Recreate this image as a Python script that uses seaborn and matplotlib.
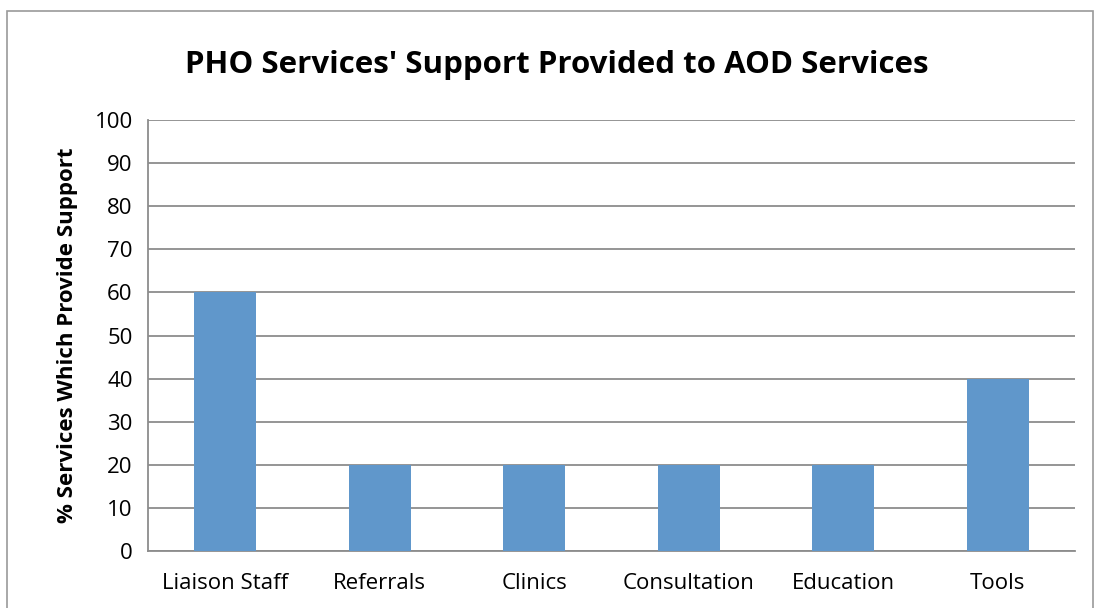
import matplotlib
matplotlib.use("Agg")
import matplotlib.pyplot as plt
import seaborn as sns
import pandas as pd
from matplotlib.patches import Rectangle

categories = ["Liaison Staff", "Referrals", "Clinics", "Consultation", "Education", "Tools"]
values = [60, 20, 20, 20, 20, 40]
yticks = [0, 10, 20, 30, 40, 50, 60, 70, 80, 90, 100]

sns.set_theme(style="white")
plt.rcParams['font.family'] = ['Open Sans', 'DejaVu Sans']
plt.rcParams['text.color'] = 'black'
plt.rcParams['xtick.color'] = 'black'
plt.rcParams['ytick.color'] = 'black'
plt.rcParams['axes.labelcolor'] = 'black'

df = pd.DataFrame({"cat": categories, "val": values})

fig = plt.figure(figsize=(11.01, 6.08), dpi=100)
ax = fig.add_axes([148/1101, 1-551/608, 927/1101, 431/608])
sns.barplot(data=df, x="cat", y="val", color="#6097CB", saturation=1, width=0.4,
            linewidth=0, edgecolor="none", ax=ax, zorder=3)

ax.set_ylim(0, 100)
ax.set_xlim(-0.5, len(categories) - 0.5)
ax.set_yticks(yticks)
ax.set_yticklabels([str(t) for t in yticks], fontsize=16)
ax.yaxis.grid(True, color="#8C8C8C", linewidth=1.3, zorder=0)
ax.set_axisbelow(True)
ax.set_xticks(range(len(categories)))
ax.set_xticklabels(categories, fontsize=16)
ax.tick_params(axis="x", which="major", length=0, pad=16)
ax.set_xticks([i - 0.5 for i in range(len(categories) + 1)], minor=True)
ax.tick_params(axis="x", which="minor", length=7, width=1.3, color="#8C8C8C", direction="out")
ax.tick_params(axis="y", length=6, width=1.3, color="#8C8C8C", labelcolor="black", direction="out", pad=5)
ax.set_xlabel("")
ax.set_ylabel("% Services Which Provide Support", fontsize=16, fontweight="bold", labelpad=12)
for s in ["top", "right"]:
    ax.spines[s].set_visible(False)
for s in ["left", "bottom"]:
    ax.spines[s].set_color("#8C8C8C")
    ax.spines[s].set_linewidth(1.3)

fig.text(557/1101, 1-65/608, "PHO Services' Support Provided to AOD Services",
         ha="center", va="center", fontsize=22.5, fontweight="bold", color="black")

fig.patches.append(Rectangle((7/1101, -0.05), (1093-7)/1101, 1.05 - 11/608,
                             transform=fig.transFigure, fill=False,
                             edgecolor="#9A9A9A", linewidth=1.2))

fig.savefig("out.png", dpi=100)
